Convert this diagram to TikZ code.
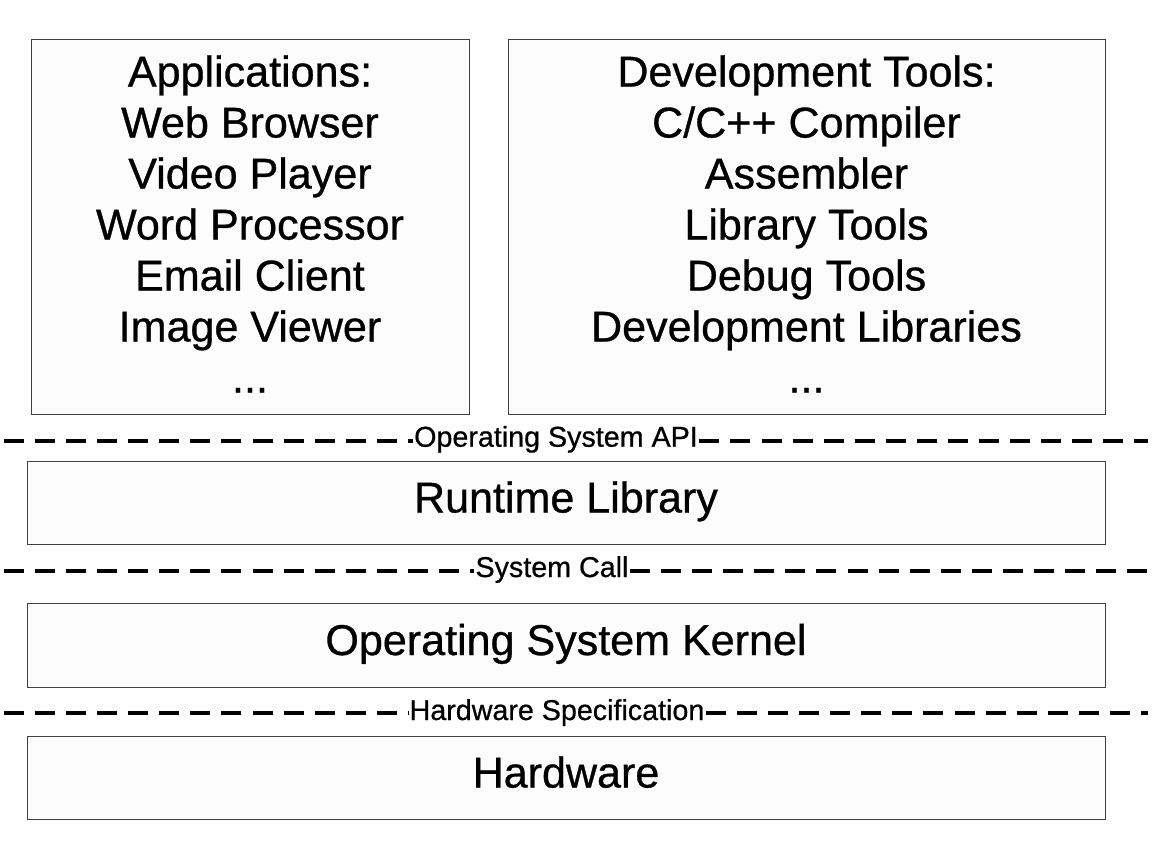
\documentclass[tikz,border=0pt]{standalone}
\usepackage{fontspec}
\setmainfont{Liberation Sans}
\newfontfamily\heavyfont{Liberation Sans}[FakeBold=0.7]
\begin{document}
\begin{tikzpicture}[x=0.75pt,y=-0.75pt,
  layerbox/.style={draw=black!75,line width=0.75pt,fill=black!1},
  bigtext/.style={anchor=base,inner sep=0pt,font=\heavyfont\fontsize{32.3}{38}\selectfont},
  smalltext/.style={anchor=base,inner xsep=1pt,inner ysep=0pt,fill=white,font=\heavyfont\fontsize{21.5}{25}\selectfont},
  sepline/.style={line width=2.4pt,dash pattern=on 15pt off 8.3pt}]
\useasboundingbox (0,0) rectangle (1152,846);
% boxes
\draw[layerbox] (31,39) rectangle (469,414);
\draw[layerbox] (508,39) rectangle (1105,414);
\draw[layerbox] (27,461) rectangle (1105,544);
\draw[layerbox] (27,603) rectangle (1105,687);
\draw[layerbox] (27,736) rectangle (1105,819);
% applications
\node[bigtext] (a1) at (250,86.5) {Applications:};
\node[bigtext] (a2) at (250,137.5) {Web Browser};
\node[bigtext] (a3) at (250,188.5) {Video Player};
\node[bigtext] (a4) at (250,239.5) {Word Processor};
\node[bigtext] (a5) at (250,290.5) {Email Client};
\node[bigtext] (a6) at (250,341.5) {Image Viewer};
\node[bigtext] (a7) at (250,392.5) {...};
% development tools
\node[bigtext] (d1) at (806.5,86.5) {Development Tools:};
\node[bigtext] (d2) at (806.5,137.5) {C/C++ Compiler};
\node[bigtext] (d3) at (806.5,188.5) {Assembler};
\node[bigtext] (d4) at (806.5,239.5) {Library Tools};
\node[bigtext] (d5) at (806.5,290.5) {Debug Tools};
\node[bigtext] (d6) at (806.5,341.5) {Development Libraries};
\node[bigtext] (d7) at (806.5,392.5) {...};
% layers
\node[bigtext] (rt) at (566,512.5) {Runtime Library};
\node[bigtext] (os) at (566,655) {Operating System Kernel};
\node[bigtext] (hw) at (566,787.5) {Hardware};
% separators
\coordinate (L1) at (4,441);   \coordinate (R1) at (1148,441);
\coordinate (L2) at (4,571);   \coordinate (R2) at (1148,571);
\coordinate (L3) at (4,713);   \coordinate (R3) at (1148,713);
\node[smalltext] (api) at (556,446.7) {Operating System API};
\node[smalltext] (sc) at (552,577) {System Call};
\node[smalltext] (hs) at (557,720) {Hardware Specification};
\draw[sepline] (L1) -- (L1 -| api.west);
\draw[sepline] (api.east |- R1) -- (R1);
\draw[sepline] (L2) -- (L2 -| sc.west);
\draw[sepline] (sc.east |- R2) -- (R2);
\draw[sepline] (L3) -- (L3 -| hs.west);
\draw[sepline] (hs.east |- R3) -- (R3);
\end{tikzpicture}
\end{document}
